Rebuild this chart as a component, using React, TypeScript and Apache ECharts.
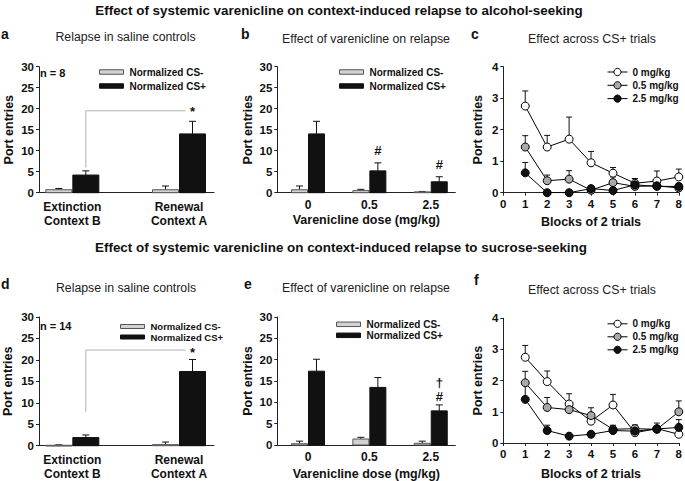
import React, { useEffect, useRef } from "react";
import * as echarts from "echarts";

const FONT = '"Liberation Sans", Arial, Helvetica, sans-serif';

// ---------- texts
const titleAlcohol = "Effect of systemic varenicline on context-induced relapse to alcohol-seeking";
const titleSucrose = "Effect of systemic varenicline on context-induced relapse to sucrose-seeking";
const subtitleContext = "Relapse in saline controls";
const subtitleDose = "Effect of varenicline on relapse";
const subtitleTrials = "Effect across CS+ trials";
const yName = "Port entries";
const doseAxisName = "Varenicline dose (mg/kg)";
const blockAxisName = "Blocks of 2 trials";

// ---------- categories / ticks
const contextCategories = ["Extinction\nContext B", "Renewal\nContext A"];
const doseCategories = ["0", "0.5", "2.5"];
const barSeriesNames = ["Normalized CS-", "Normalized CS+"];
const lineSeriesNames = ["0 mg/kg", "0.5 mg/kg", "2.5 mg/kg"];
const blocks = [1, 2, 3, 4, 5, 6, 7, 8];
const barTicks = [0, 5, 10, 15, 20, 25, 30];
const lineTicks = [0, 1, 2, 3, 4];
const blockTicks = [0, 1, 2, 3, 4, 5, 6, 7, 8];

// ---------- panel a (alcohol, saline controls)
const aMinus = [0.7, 0.7];
const aMinusErr = [0.3, 0.9];
const aPlus = [4.2, 14.0];
const aPlusErr = [1.0, 3.0];
const aSig = [6.0, 19.5]; // bracket low / high
const aStar = 19.3;
const aN = "n = 8";

// ---------- panel b (alcohol, dose)
const bMinus = [0.7, 0.5, 0.2];
const bMinusErr = [0.9, 0.3, 0.1];
const bPlus = [14.0, 5.2, 2.6];
const bPlusErr = [3.0, 1.9, 1.2];
const bMarkText = ["#", "#"];
const bMarkDose = [1, 2];
const bMarkY = [10.0, 6.6];

// ---------- panel c (alcohol, trials)
const c0 = [2.75, 1.45, 1.7, 0.95, 0.62, 0.3, 0.37, 0.5];
const c0Err = [0.48, 0.37, 0.7, 0.36, 0.18, 0.15, 0.32, 0.25];
const c05 = [1.45, 0.38, 0.43, 0.08, 0.32, 0.2, 0.22, 0.15];
const c05Err = [0.36, 0.18, 0.27, 0.05, 0.18, 0.25, 0.1, 0.08];
const c25 = [0.63, 0.0, 0.0, 0.13, 0.07, 0.25, 0.2, 0.2];
const c25Err = [0.33, 0.02, 0.02, 0.05, 0.05, 0.2, 0.08, 0.08];

// ---------- panel d (sucrose, saline controls)
const dMinus = [0.1, 0.25];
const dMinusErr = [0.1, 0.6];
const dPlus = [1.9, 17.3];
const dPlusErr = [0.6, 2.8];
const dSig = [7.9, 22.3];
const dStar = 21.8;
const dN = "n = 14";

// ---------- panel e (sucrose, dose)
const eMinus = [0.3, 1.4, 0.4];
const eMinusErr = [0.6, 0.4, 0.5];
const ePlus = [17.3, 13.5, 8.0];
const ePlusErr = [2.8, 2.3, 1.4];
const eMarkText = ["\u2020", "#"];
const eMarkDose = [2, 2];
const eMarkY = [14.6, 11.4];

// ---------- panel f (sucrose, trials)
const f0 = [2.75, 1.97, 1.25, 0.7, 1.22, 0.33, 0.46, 0.28];
const f0Err = [0.38, 0.34, 0.33, 0.1, 0.34, 0.08, 0.1, 0.08];
const f05 = [1.93, 1.14, 1.07, 0.88, 0.44, 0.46, 0.44, 1.0];
const f05Err = [0.37, 0.32, 0.1, 0.25, 0.1, 0.12, 0.1, 0.35];
const f25 = [1.4, 0.4, 0.22, 0.28, 0.4, 0.38, 0.45, 0.5];
const f25Err = [0.48, 0.17, 0.05, 0.08, 0.17, 0.08, 0.19, 0.25];

// ---------- layout (axis positions of the category groups)
const contextPos = [1, 4.2];
const contextMax = 5.25;
const dosePos = [0.5, 1.5, 2.5];
const doseMax = 2.9;

const INK = "#111";
const CSM_FILL = "#d2d2d2";
const CSM_STROKE = "#555";
const CSP_FILL = "#111";
const LINE_FILLS = ["#ffffff", "#a9a9a9", "#111111"];

function near(v: number, t: number) {
  return Math.abs(v - t) < 1e-6;
}

function barSeries(idx: number, name: string, pos: number[], vals: number[], errs: number[], shift: number, width: number, fill: string, stroke: string) {
  return {
    type: "custom",
    name,
    xAxisIndex: idx,
    yAxisIndex: idx,
    z: 3,
    itemStyle: { color: fill, borderColor: stroke },
    encode: { x: 0, y: 1 },
    data: pos.map((p, i) => [p, vals[i], errs[i]]),
    renderItem: (_params: any, api: any) => {
      const x = api.value(0);
      const v = api.value(1);
      const e = api.value(2);
      const base = api.coord([x, 0]);
      const top = api.coord([x, v]);
      const err = api.coord([x, v + e]);
      const cx = base[0] + shift;
      const cap = 3.5;
      return {
        type: "group",
        children: [
          { type: "line", shape: { x1: cx, y1: top[1], x2: cx, y2: err[1] }, style: { stroke: INK, lineWidth: 1 } },
          { type: "line", shape: { x1: cx - cap, y1: err[1], x2: cx + cap, y2: err[1] }, style: { stroke: INK, lineWidth: 1 } },
          { type: "rect", shape: { x: cx - width / 2, y: top[1], width, height: Math.max(base[1] - top[1], 0.8) }, style: { fill, stroke, lineWidth: 1 } },
        ],
      };
    },
  };
}

function markSeries(idx: number, xs: number[], ys: number[], texts: string[], shift: number) {
  return {
    type: "custom",
    name: "marks" + idx,
    xAxisIndex: idx,
    yAxisIndex: idx,
    z: 6,
    encode: { x: 0, y: 1 },
    data: xs.map((x, i) => [x, ys[i]]),
    renderItem: (params: any, api: any) => {
      const p = api.coord([api.value(0), api.value(1)]);
      return {
        type: "text",
        x: p[0] + shift,
        y: p[1],
        style: {
          text: texts[params.dataIndex],
          fontSize: 13,
          fontWeight: "bold",
          fontFamily: FONT,
          fill: INK,
          align: "center",
          verticalAlign: "middle",
          textAlign: "center",
          textVerticalAlign: "middle",
        },
      };
    },
  };
}

function sigSeries(idx: number, xFrom: number, xTo: number, sig: number[], shift: number) {
  return {
    type: "custom",
    name: "sig" + idx,
    xAxisIndex: idx,
    yAxisIndex: idx,
    z: 5,
    encode: { x: 0, y: 1 },
    data: [[xFrom, sig[0], sig[1], xTo]],
    renderItem: (_params: any, api: any) => {
      const p1 = api.coord([api.value(0), api.value(1)]);
      const p2 = api.coord([api.value(0), api.value(2)]);
      const p3 = api.coord([api.value(3), api.value(2)]);
      return {
        type: "polyline",
        shape: { points: [[p1[0] + shift, p1[1]], [p2[0] + shift, p2[1]], [p3[0] + shift - 7, p3[1]]] },
        style: { stroke: "#b0b0b0", lineWidth: 1, fill: null },
      };
    },
  };
}

function errSeries(idx: number, tag: string, xs: number[], vals: number[], errs: number[]) {
  return {
    type: "custom",
    name: "err-" + tag,
    xAxisIndex: idx,
    yAxisIndex: idx,
    z: 1,
    encode: { x: 0, y: 1 },
    data: xs.map((x, i) => [x, vals[i], errs[i]]),
    renderItem: (_params: any, api: any) => {
      const a = api.coord([api.value(0), api.value(1)]);
      const b = api.coord([api.value(0), api.value(1) + api.value(2)]);
      return {
        type: "group",
        children: [
          { type: "line", shape: { x1: a[0], y1: a[1], x2: b[0], y2: b[1] }, style: { stroke: INK, lineWidth: 1 } },
          { type: "line", shape: { x1: b[0] - 3, y1: b[1], x2: b[0] + 3, y2: b[1] }, style: { stroke: INK, lineWidth: 1 } },
        ],
      };
    },
  };
}

function lineSeries(idx: number, name: string, vals: number[], fill: string) {
  return {
    type: "line",
    name,
    xAxisIndex: idx,
    yAxisIndex: idx,
    z: 3,
    symbol: "circle",
    symbolSize: 8,
    itemStyle: { color: fill, borderColor: "#000", borderWidth: 1 },
    lineStyle: { color: "#000", width: 1 },
    data: blocks.map((b, i) => [b, vals[i]]),
  };
}

function yAxis(idx: number, ticks: number[], nameGap: number) {
  return {
    gridIndex: idx,
    type: "value",
    min: ticks[0],
    max: ticks[ticks.length - 1],
    interval: ticks[1] - ticks[0],
    name: yName,
    nameLocation: "middle",
    nameGap,
    nameRotate: 90,
    nameTextStyle: { fontSize: 12.5, fontWeight: "bold", fontFamily: FONT, color: INK },
    axisLine: { show: true, onZero: false, lineStyle: { color: "#222", width: 1 } },
    axisTick: { show: true, length: 3, lineStyle: { color: "#222" } },
    axisLabel: { fontSize: 11.5, fontWeight: "bold", fontFamily: FONT, color: INK, margin: 5 },
    splitLine: { show: false },
  };
}

function contextXAxis(idx: number) {
  return {
    gridIndex: idx,
    type: "value",
    min: 0,
    max: contextMax,
    interval: 0.2,
    axisLine: { show: true, onZero: false, lineStyle: { color: "#222", width: 1 } },
    axisTick: { show: false },
    splitLine: { show: false },
    axisLabel: {
      fontSize: 12,
      fontWeight: "bold",
      fontFamily: FONT,
      color: INK,
      lineHeight: 13.5,
      margin: 8,
      showMinLabel: true,
      showMaxLabel: true,
      formatter: (v: number) => {
        for (let i = 0; i < contextPos.length; i++) if (near(v, contextPos[i])) return contextCategories[i];
        return "";
      },
    },
  };
}

function doseXAxis(idx: number, nameGap: number) {
  return {
    gridIndex: idx,
    type: "value",
    min: 0,
    max: doseMax,
    interval: 0.5,
    name: doseAxisName,
    nameLocation: "middle",
    nameGap,
    nameTextStyle: { fontSize: 12.5, fontWeight: "bold", fontFamily: FONT, color: INK },
    axisLine: { show: true, onZero: false, lineStyle: { color: "#222", width: 1 } },
    axisTick: { show: false },
    splitLine: { show: false },
    axisLabel: {
      fontSize: 12,
      fontWeight: "bold",
      fontFamily: FONT,
      color: INK,
      margin: 6,
      formatter: (v: number) => {
        for (let i = 0; i < dosePos.length; i++) if (near(v, dosePos[i])) return doseCategories[i];
        return "";
      },
    },
  };
}

function blockXAxis(idx: number, nameGap: number) {
  return {
    gridIndex: idx,
    type: "value",
    min: blockTicks[0],
    max: blockTicks[blockTicks.length - 1],
    interval: blockTicks[1] - blockTicks[0],
    name: blockAxisName,
    nameLocation: "middle",
    nameGap,
    nameTextStyle: { fontSize: 12.5, fontWeight: "bold", fontFamily: FONT, color: INK },
    axisLine: { show: true, onZero: false, lineStyle: { color: "#222", width: 1 } },
    axisTick: { show: true, length: 3, lineStyle: { color: "#222" } },
    splitLine: { show: false },
    axisLabel: { fontSize: 11.5, fontWeight: "bold", fontFamily: FONT, color: INK, margin: 5 },
  };
}

function text(x: number, y: number, t: string, size: number, weight: string, color: string, align = "center") {
  return {
    type: "text",
    x,
    y,
    silent: true,
    style: {
      text: t,
      fontSize: size,
      fontWeight: weight,
      fontFamily: FONT,
      fill: color,
      align,
      verticalAlign: "middle",
      textAlign: align,
      textVerticalAlign: "middle",
    },
  };
}

function barLegend(left: number, top: number, fontSize: number, gap: number, h: number) {
  return {
    orient: "vertical",
    left,
    top,
    padding: 0,
    itemWidth: 24,
    itemHeight: h,
    itemGap: gap,
    selectedMode: false,
    textStyle: { fontSize, fontWeight: "bold", fontFamily: FONT, color: INK, padding: [0, 0, 0, 1] },
    data: [
      { name: barSeriesNames[0], icon: "rect", itemStyle: { color: CSM_FILL, borderColor: CSM_STROKE, borderWidth: 1 } },
      { name: barSeriesNames[1], icon: "rect", itemStyle: { color: CSP_FILL, borderColor: CSP_FILL, borderWidth: 1 } },
    ],
  };
}

function lineLegend(left: number, top: number, gap: number) {
  return {
    orient: "vertical",
    left,
    top,
    padding: 0,
    itemWidth: 20,
    itemHeight: 9,
    itemGap: gap,
    selectedMode: false,
    lineStyle: { color: "#000", width: 1 },
    itemStyle: { borderColor: "#000", borderWidth: 1 },
    textStyle: { fontSize: 10, fontWeight: "bold", fontFamily: FONT, color: INK },
    data: lineSeriesNames,
  };
}

function buildOption() {
  const grids = [
    { left: 39, top: 66.7, width: 175, height: 126 },
    { left: 277.3, top: 66.7, width: 178, height: 126 },
    { left: 503.3, top: 66.7, width: 178.4, height: 126 },
    { left: 39, top: 317, width: 175, height: 128.7 },
    { left: 277.3, top: 317, width: 178, height: 128.7 },
    { left: 503.3, top: 318.3, width: 178.4, height: 127.4 },
  ];
  const wA = 26;
  const wB = 16;
  const series: any[] = [
    // a
    barSeries(0, barSeriesNames[0], contextPos, aMinus, aMinusErr, -wA / 2 - 0.5, wA, CSM_FILL, CSM_STROKE),
    barSeries(0, barSeriesNames[1], contextPos, aPlus, aPlusErr, wA / 2 + 0.5, wA, CSP_FILL, CSP_FILL),
    sigSeries(0, contextPos[0], contextPos[1], aSig, wA / 2 + 0.5),
    markSeries(0, [contextPos[1]], [aStar], ["*"], wA / 2 + 0.5),
    // b
    barSeries(1, barSeriesNames[0], dosePos, bMinus, bMinusErr, -wB / 2 - 0.5, wB, CSM_FILL, CSM_STROKE),
    barSeries(1, barSeriesNames[1], dosePos, bPlus, bPlusErr, wB / 2 + 0.5, wB, CSP_FILL, CSP_FILL),
    markSeries(1, bMarkDose.map((i) => dosePos[i]), bMarkY, bMarkText, wB / 2 + 0.5),
    // c
    errSeries(2, "c0", blocks, c0, c0Err),
    errSeries(2, "c05", blocks, c05, c05Err),
    errSeries(2, "c25", blocks, c25, c25Err),
    lineSeries(2, lineSeriesNames[0], c0, LINE_FILLS[0]),
    lineSeries(2, lineSeriesNames[1], c05, LINE_FILLS[1]),
    lineSeries(2, lineSeriesNames[2], c25, LINE_FILLS[2]),
    // d
    barSeries(3, barSeriesNames[0], contextPos, dMinus, dMinusErr, -wA / 2 - 0.5, wA, CSM_FILL, CSM_STROKE),
    barSeries(3, barSeriesNames[1], contextPos, dPlus, dPlusErr, wA / 2 + 0.5, wA, CSP_FILL, CSP_FILL),
    sigSeries(3, contextPos[0], contextPos[1], dSig, wA / 2 + 0.5),
    markSeries(3, [contextPos[1]], [dStar], ["*"], wA / 2 + 0.5),
    // e
    barSeries(4, barSeriesNames[0], dosePos, eMinus, eMinusErr, -wB / 2 - 0.5, wB, CSM_FILL, CSM_STROKE),
    barSeries(4, barSeriesNames[1], dosePos, ePlus, ePlusErr, wB / 2 + 0.5, wB, CSP_FILL, CSP_FILL),
    markSeries(4, eMarkDose.map((i) => dosePos[i]), eMarkY, eMarkText, wB / 2 + 0.5),
    // f
    errSeries(5, "f0", blocks, f0, f0Err),
    errSeries(5, "f05", blocks, f05, f05Err),
    errSeries(5, "f25", blocks, f25, f25Err),
    lineSeries(5, lineSeriesNames[0], f0, LINE_FILLS[0]),
    lineSeries(5, lineSeriesNames[1], f05, LINE_FILLS[1]),
    lineSeries(5, lineSeriesNames[2], f25, LINE_FILLS[2]),
  ];

  return {
    animation: false,
    backgroundColor: "#ffffff",
    textStyle: { fontFamily: FONT },
    grid: grids,
    xAxis: [contextXAxis(0), doseXAxis(1, 21), blockXAxis(2, 23), contextXAxis(3), doseXAxis(4, 22), blockXAxis(5, 24)],
    yAxis: [yAxis(0, barTicks, 24), yAxis(1, barTicks, 23), yAxis(2, lineTicks, 19), yAxis(3, barTicks, 25), yAxis(4, barTicks, 23), yAxis(5, lineTicks, 19)],
    legend: [
      barLegend(99, 67, 10, 4, 4.5),
      barLegend(339, 67, 10, 4, 4.5),
      lineLegend(607, 67, 3.3),
      barLegend(120, 321.5, 9.5, 0.5, 4),
      barLegend(336, 319.3, 10, 1, 4.5),
      lineLegend(607, 318.8, 3),
    ],
    series,
    graphic: {
      elements: [
        text(339, 10, titleAlcohol, 13.4, "bold", INK),
        text(341, 247, titleSucrose, 13.4, "bold", INK),
        text(125.5, 37, subtitleContext, 12.3, "normal", "#222"),
        text(366, 39, subtitleDose, 12.3, "normal", "#222"),
        text(592, 38.5, subtitleTrials, 12.3, "normal", "#222"),
        text(126, 287.5, subtitleContext, 12.3, "normal", "#222"),
        text(366, 288, subtitleDose, 12.3, "normal", "#222"),
        text(592, 290, subtitleTrials, 12.3, "normal", "#222"),
        text(1, 33.5, "a", 14, "bold", INK, "left"),
        text(241, 34, "b", 14, "bold", INK, "left"),
        text(471, 34, "c", 14, "bold", INK, "left"),
        text(1, 283.5, "d", 14, "bold", INK, "left"),
        text(244, 283.5, "e", 14, "bold", INK, "left"),
        text(474, 279.5, "f", 14, "bold", INK, "left"),
        text(40, 73, aN, 11, "bold", INK, "left"),
        text(40, 326, dN, 11, "bold", INK, "left"),
      ],
    },
  };
}

export default function App() {
  const ref = useRef<HTMLDivElement>(null);
  useEffect(() => {
    if (!ref.current) return;
    const chart = echarts.init(ref.current, undefined, { renderer: "svg" });
    chart.setOption(buildOption() as any);
    return () => chart.dispose();
  }, []);
  return (
    <div
      ref={ref}
      style={{ position: "fixed", left: 0, top: 0, width: 685, height: 481, background: "#fff" }}
    />
  );
}
